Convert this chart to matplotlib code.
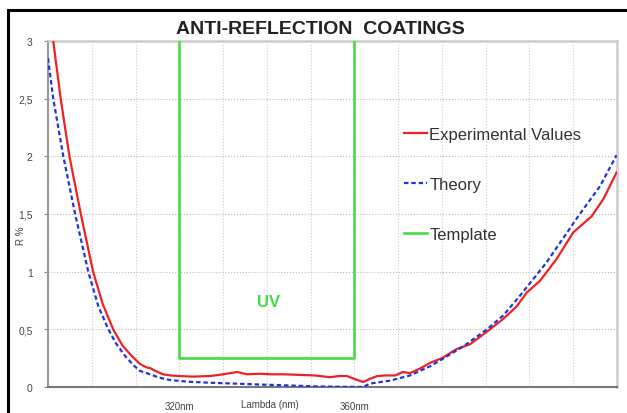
import matplotlib
matplotlib.use("Agg")
import matplotlib.pyplot as plt
from matplotlib.patches import Rectangle

plt.rcParams['font.family'] = ['Liberation Sans', 'DejaVu Sans']

# measured reflectance (R %) vs wavelength (nm)
exp_nm = [291.2, 292.9, 294.9, 297.5, 300.3, 302.5, 304.9, 307.0, 309.1, 311.0,
          312.5, 313.3, 314.5, 316.3, 318.0, 320.2, 323.0, 327.0, 330.0, 333.2,
          335.5, 338.4, 341.0, 344.0, 347.6, 351.0, 354.4, 356.5, 358.3, 360.0,
          362.0, 363.5, 365.2, 367.0, 369.3, 371.1, 372.7, 375.0, 377.3, 380.0,
          383.4, 386.4, 390.3, 394.0, 397.1, 399.4, 402.4, 406.2, 410.0, 414.2,
          416.9, 419.9]
exp_r = [3.0, 2.5, 2.0, 1.5, 1.0, 0.72, 0.5, 0.36, 0.27, 0.2,
         0.17, 0.165, 0.14, 0.11, 0.1, 0.095, 0.09, 0.095, 0.11, 0.13,
         0.11, 0.115, 0.11, 0.11, 0.105, 0.1, 0.085, 0.095, 0.095, 0.07,
         0.043, 0.07, 0.095, 0.1, 0.1, 0.13, 0.12, 0.16, 0.21, 0.25,
         0.33, 0.37, 0.48, 0.59, 0.70, 0.82, 0.92, 1.11, 1.34, 1.48,
         1.63, 1.86]

theory_nm = [290.0, 291.2, 293.5, 296.2, 299.2, 301.5, 303.8, 305.5, 307.6, 309.5,
             311.0, 313.3, 315.5, 317.9, 322.4, 327.0, 332.3, 338.0, 343.7, 351.5,
             357.0, 362.0, 363.6, 368.1, 372.7, 377.3, 380.0, 384.8, 390.3, 394.0,
             397.8, 403.9, 411.5, 416.1, 419.9]
theory_r = [2.85, 2.5, 2.0, 1.5, 1.0, 0.7, 0.5, 0.38, 0.27, 0.19,
            0.14, 0.11, 0.08, 0.06, 0.045, 0.037, 0.03, 0.022, 0.015, 0.005,
            0.002, 0.0, 0.03, 0.055, 0.10, 0.18, 0.24, 0.35, 0.50, 0.62,
            0.79, 1.08, 1.50, 1.74, 2.01]

template_nm = [320, 320, 360, 360]
template_r = [3.2, 0.25, 0.25, 3.2]

yticks = [0, 0.5, 1, 1.5, 2, 2.5, 3]
ytick_labels = ['0', '0,5', '1', '1,5', '2', '2,5', '3']
xticks = [320, 360]
xtick_labels = ['320nm', '360nm']

fig = plt.figure(figsize=(6.27, 4.14), dpi=100)
ax = fig.add_axes([48/627, 1 - 388/414, 569/627, 346/414])

# figure frame
fig.patches.append(Rectangle((8/627, -0.05), 1.1, 1 - 11/414 + 0.05,
                             transform=fig.transFigure, fill=False,
                             edgecolor='black', linewidth=2.2))

ax.plot(template_nm, template_r, color='#44dd44', linewidth=1.9, label='Template', zorder=3)
ax.plot(exp_nm, exp_r, color='#ee2222', linewidth=1.6, label='Experimental Values', zorder=4)
ax.plot(theory_nm, theory_r, color='#2233dd', linewidth=1.6, linestyle=(0, (2, 1.3)),
        label='Theory', zorder=5)

ax.text(340.5, 0.74, 'UV', color='#44dd44', fontsize=12, fontweight='bold',
        ha='center', va='center')

ax.set_xlim(290, 420)
ax.set_ylim(0, 3)
ax.set_xticks(range(290, 421, 10), minor=True)
ax.set_xticks(xticks)
ax.set_xticklabels(xtick_labels, fontsize=7, color='#444444')
ax.set_yticks(yticks)
ax.set_yticklabels(ytick_labels, fontsize=7.5, color='#444444')
ax.tick_params(axis='x', which='both', length=0, pad=10)
ax.tick_params(axis='y', length=3, color='#888888', pad=8)
ax.grid(True, which='both', axis='x', color='#cccccc', linestyle=':', linewidth=0.8)
ax.grid(True, axis='y', color='#bbbbbb', linestyle=':', linewidth=0.8)

ax.set_xlabel('Lambda (nm)', fontsize=7, color='#444444')
ax.xaxis.set_label_coords((270 - 48) / 569, -0.035)
ax.set_ylabel('R %', fontsize=7, color='#444444')
ax.yaxis.set_label_coords(-0.038, 0.44)

for side in ['top', 'right']:
    ax.spines[side].set_color('#cccccc')
    ax.spines[side].set_linewidth(1.8)
ax.spines['left'].set_color('#999999')
ax.spines['left'].set_linewidth(1.5)
ax.spines['bottom'].set_color('#777777')
ax.spines['bottom'].set_linewidth(1.5)

handles, labels = ax.get_legend_handles_labels()
order = [1, 2, 0]
ax.legend([handles[i] for i in order], [labels[i] for i in order],
          frameon=False, loc='upper left', bbox_to_anchor=((389 - 48) / 569, 0.795),
          fontsize=12, handlelength=1.4, handletextpad=0.12, labelspacing=2.1,
          labelcolor='#333333')

fig.text(320/627, 1 - 29/414, 'ANTI-REFLECTION  COATINGS', fontsize=14,
         fontweight='bold', ha='center', va='center', color='#222222')

fig.savefig('out.png', dpi=100)
